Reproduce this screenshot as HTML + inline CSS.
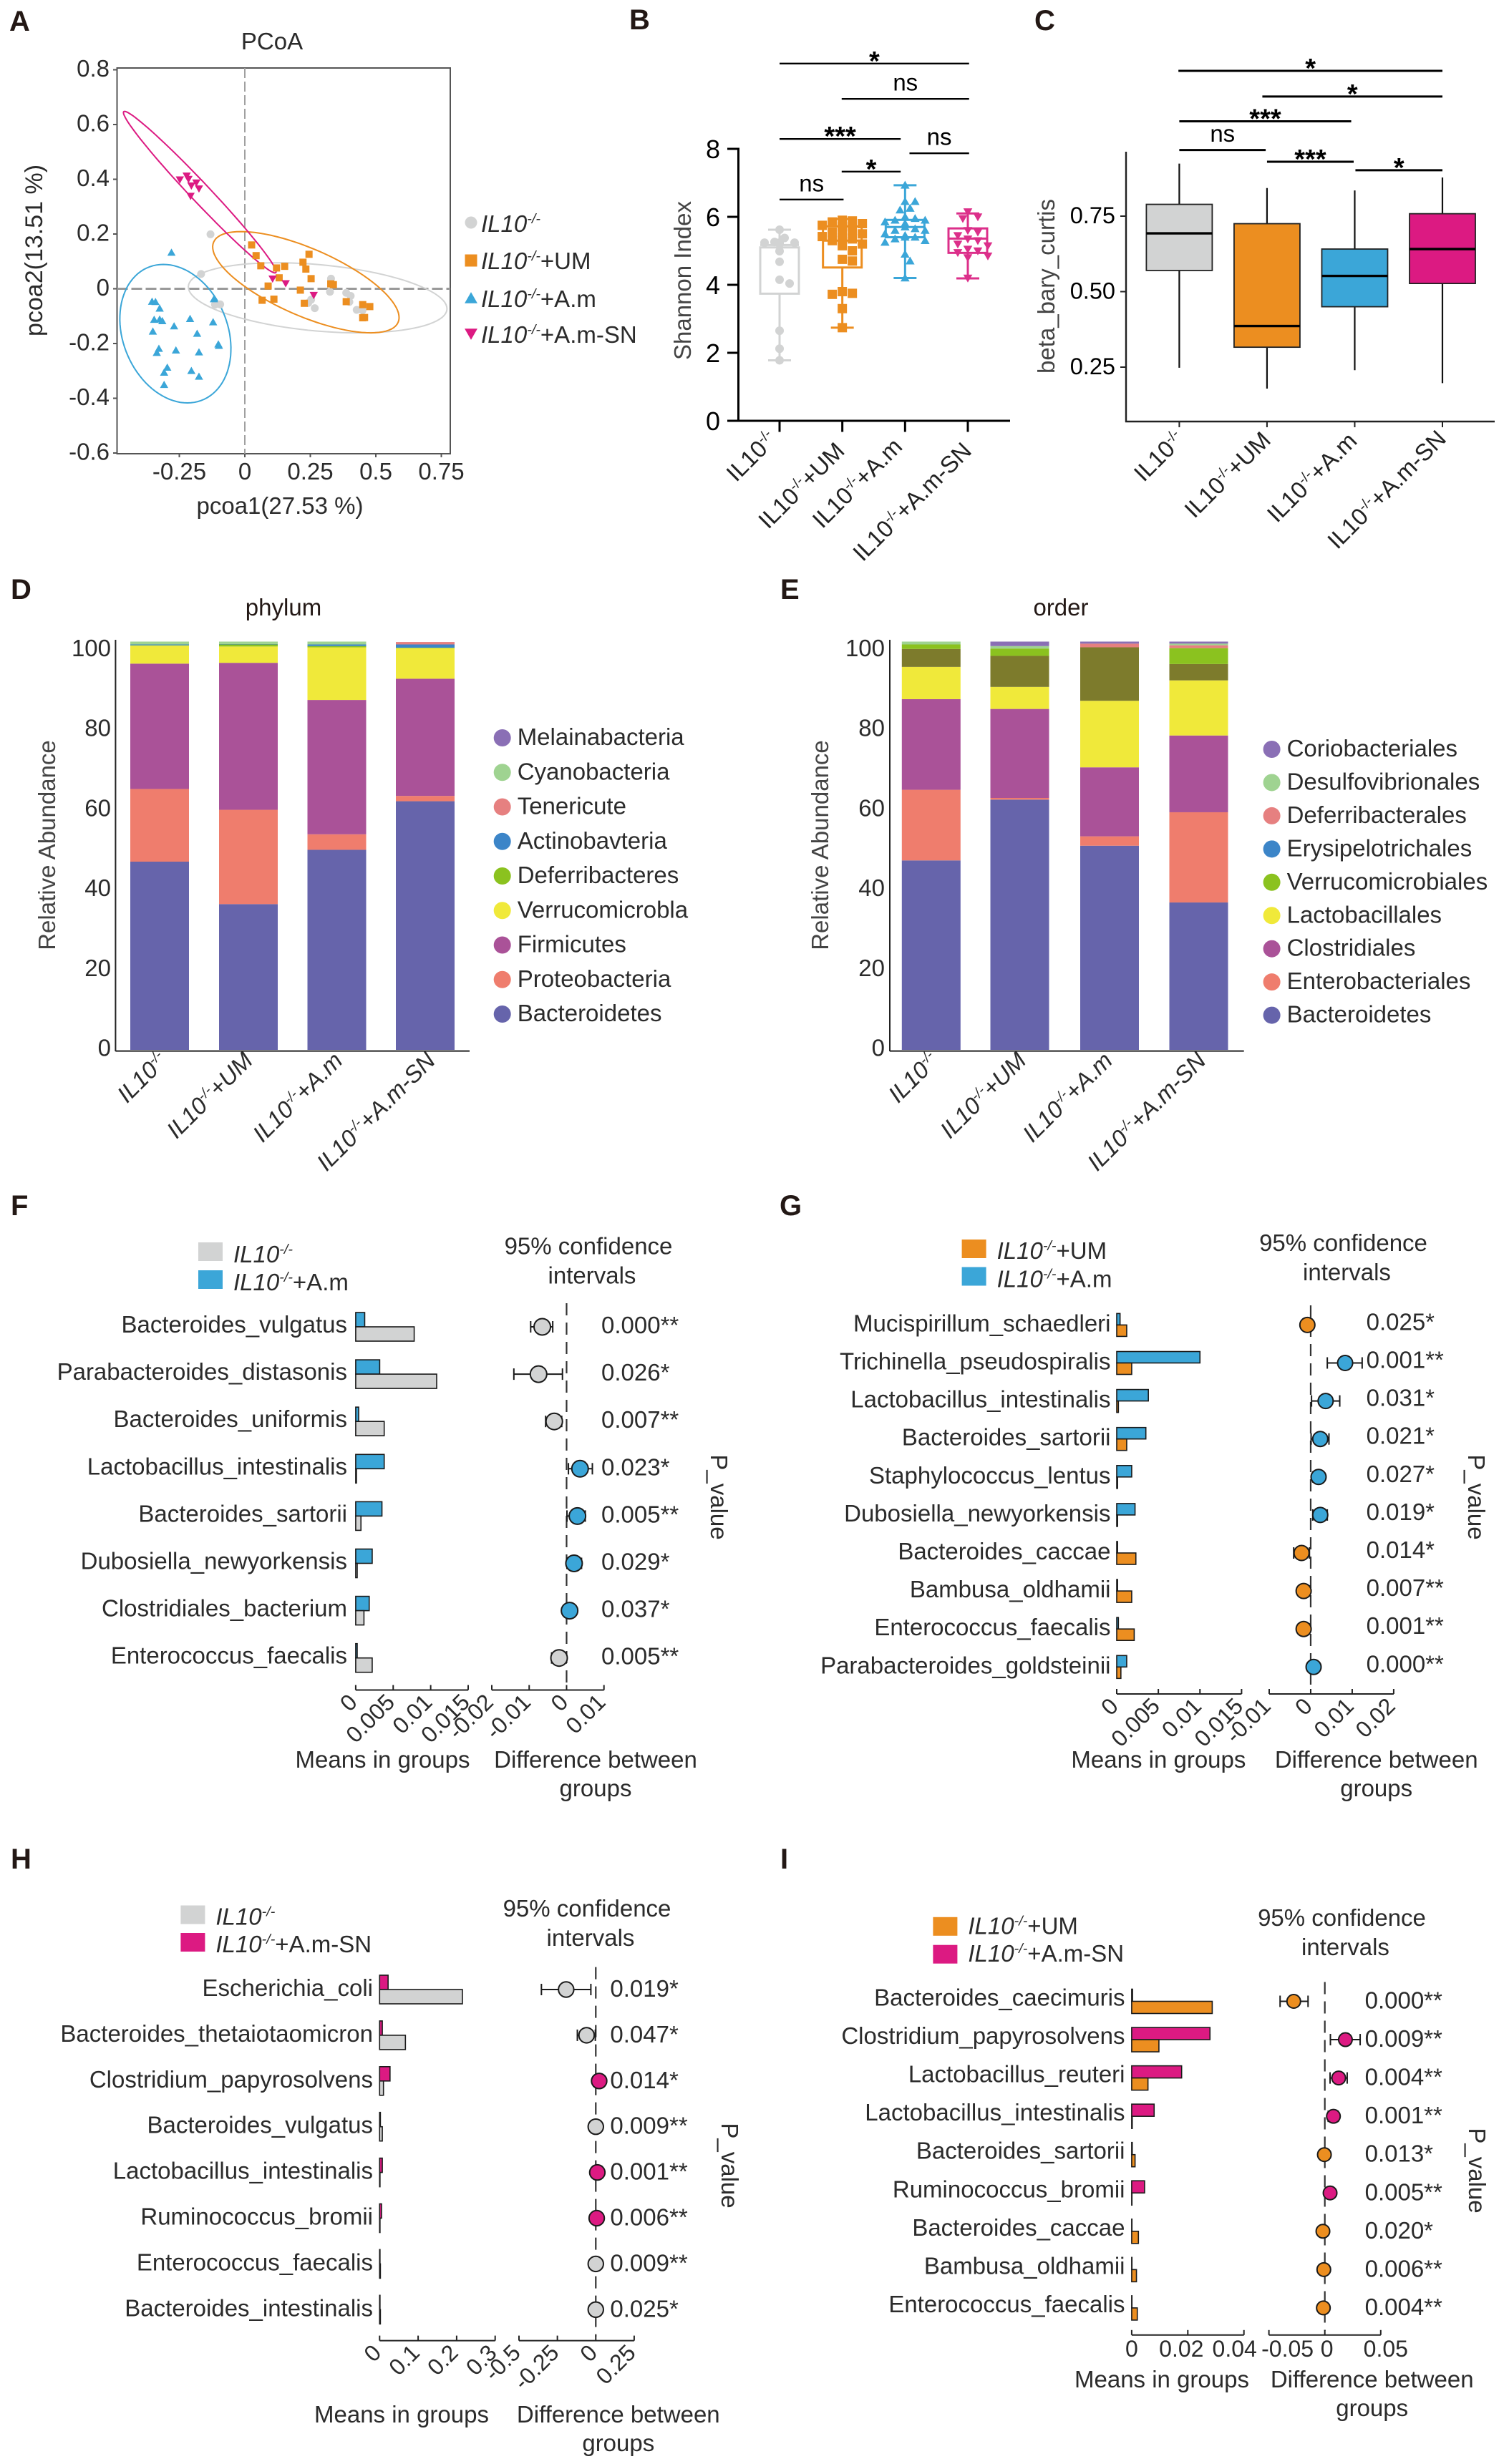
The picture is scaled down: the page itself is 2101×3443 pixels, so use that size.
<!DOCTYPE html>
<html lang="en">
<head>
<meta charset="utf-8">
<title>Microbiome figure panels A-I</title>
<style>
html,body{margin:0;padding:0;background:#fff}
svg{display:block}
text{font-family:"Liberation Sans",Arial,sans-serif}
</style>
</head>
<body>
<svg id="figure" xmlns="http://www.w3.org/2000/svg" width="2101" height="3443" viewBox="0 0 2101 3443">
<rect x="0" y="0" width="2101" height="3443" fill="#ffffff"/>
</svg>
<script>
/* ---------- shared categories ---------- */
const groupLabels = ['IL10-/-', 'IL10-/-+UM', 'IL10-/-+A.m', 'IL10-/-+A.m-SN'];

/* ---------- panel A: PCoA ---------- */
const pcoaXTicks = [-0.25, 0, 0.25, 0.5, 0.75];
const pcoaXTickLabels = ['-0.25', '0', '0.25', '0.5', '0.75'];
const pcoaYTicks = [0.8, 0.6, 0.4, 0.2, 0, -0.2, -0.4, -0.6];
const pcoaYTickLabels = ['0.8', '0.6', '0.4', '0.2', '0', '-0.2', '-0.4', '-0.6'];
const pcoaGrayX = [-.131,-.167,-.114,-.094,.329,.325,.387,.404,.399,.253,.242,.267,.427,.449];
const pcoaGrayY = [.199,.054,-.058,-.057,.037,-.011,-.015,-.026,-.048,-.040,-.052,-.071,-.077,-.079];
const pcoaOrangeX = [.026,.043,.061,.121,.152,.222,.245,.233,.253,.131,.089,.212,.066,.111,.227,.328,.338,.387,.450,.477,.450,.457];
const pcoaOrangeY = [.160,.121,.084,.076,.082,.097,.126,.072,.037,.040,.010,-.005,-.042,-.038,-.053,.018,.015,-.047,-.058,-.065,-.106,-.105];
const pcoaBlueX = [-.280,-.354,-.341,-.325,-.346,-.325,-.315,-.270,-.209,-.121,-.351,-.182,-.118,-.101,-.099,-.328,-.336,-.263,-.175,-.296,-.308,-.204,-.175,-.308];
const pcoaBlueY = [.132,-.047,-.048,-.072,-.113,-.112,-.118,-.137,-.110,-.122,-.156,-.164,-.038,-.203,-.208,-.219,-.234,-.225,-.232,-.288,-.306,-.300,-.321,-.351];
const pcoaPinkX = [-.248,-.222,-.215,-.185,-.204,-.175,-.207,.106,.156,.263];
const pcoaPinkY = [.399,.413,.401,.388,.377,.366,.339,.037,.020,-.023];
/* confidence ellipses: centre and two conjugate half-axes, in data units */
const ellipseGray = [.278,-.033,.154,-.128,.469,0];
const ellipseOrange = [.233,.024,.248,-.185,.255,0];
const ellipseBlue = [-.265,-.164,.046,-.253,.207,0];
const ellipsePink = [-.172,.353,.287,-.295,.050,0];

/* ---------- panel B: Shannon index ---------- */
const shannonTicks = [0, 2, 4, 6, 8];
const shannonGray = [5.62,5.21,5.24,5.38,5.24,5.24,5.24,5.26,5.21,4.99,4.68,4.15,4.04,2.65,2.12,1.78];
const shannonOrange = [5.9,5.88,5.85,5.8,5.75,5.72,5.7,5.65,5.6,5.55,5.5,5.42,5.4,5.38,5.35,5.3,5.28,5.2,5.15,5.0,4.75,4.7,3.8,3.75,3.72,3.3,2.74];
const shannonBlue = [6.93,6.45,6.45,6.25,6.2,6.0,5.95,5.9,5.9,5.85,5.8,5.8,5.7,5.65,5.6,5.6,5.5,5.45,5.4,5.4,5.35,5.3,5.25,4.9,4.7,4.2];
const shannonPink = [6.15,6.0,5.95,5.6,5.55,5.45,5.35,5.3,5.2,5.15,5.05,5.0,4.95,4.85,4.8,4.2];
const shannonWhiskerLow = [1.78,2.74,4.2,4.19];
const shannonQ1 = [3.74,4.51,5.4,4.94];
const shannonMedian = [5.17,5.3,5.7,5.36];
const shannonQ3 = [5.1,5.72,5.91,5.66];
const shannonWhiskerHigh = [5.62,5.94,6.93,6.1];
const shannonSigFrom = [0,.99,0,2.07,.99,0];
const shannonSigTo = [3.02,3.02,1.93,3.02,1.93,1.02];
const shannonSigLevel = [10.51,9.47,8.29,7.87,7.33,6.51];
const shannonSigMark = ['*','ns','***','ns','*','ns'];

/* ---------- panel C: beta diversity ---------- */
const betaTicks = [0.25, 0.50, 0.75];
const betaTickLabels = ['0.25', '0.50', '0.75'];
const betaWhiskerLow = [.248,.179,.240,.197];
const betaQ1 = [.570,.316,.450,.527];
const betaMedian = [.693,.386,.552,.641];
const betaQ3 = [.789,.725,.641,.758];
const betaWhiskerHigh = [.924,.843,.835,.878];
const betaSigFrom = [-.01,.947,0,0,1,2.008];
const betaSigTo = [3,3,1.96,.985,1.988,3];
const betaSigLevel = [1.231,1.146,1.064,.969,.930,.902];
const betaSigMark = ['*','*','***','ns','***','*'];

/* ---------- panel D: phylum ---------- */
const abundanceTicks = [100, 80, 60, 40, 20, 0];
const phylumBacteroidetes = [46.1,35.7,49.0,60.9];
const phylumProteobacteria = [17.8,23.1,3.8,1.3];
const phylumFirmicutes = [30.7,36.0,32.9,28.7];
const phylumVerrucomicrobla = [4.4,4.0,12.9,7.5];
const phylumDeferribacteres = [.1,.5,.3,.1];
const phylumActinobavteria = [.2,.1,.4,.8];
const phylumTenericute = [0,0,0,.6];
const phylumCyanobacteria = [.7,.6,.7,0];
const phylumMelainabacteria = [0,0,0,0];
const phylumStack = [phylumBacteroidetes, phylumProteobacteria, phylumFirmicutes, phylumVerrucomicrobla, phylumDeferribacteres, phylumActinobavteria, phylumTenericute, phylumCyanobacteria, phylumMelainabacteria];
const phylumNames = ['Bacteroidetes','Proteobacteria','Firmicutes','Verrucomicrobla','Deferribacteres','Actinobavteria','Tenericute','Cyanobacteria','Melainabacteria'];

/* ---------- panel E: order ---------- */
const orderBacteroidetes = [46.4,61.3,50.0,36.1];
const orderEnterobacteriales = [17.3,.4,2.3,22.1];
const orderClostridiales = [22.2,21.8,16.9,18.8];
const orderLactobacillales = [7.9,5.4,16.3,13.5];
const orderUnlabelled = [4.4,7.6,13.1,4.0];
const orderVerrucomicrobiales = [1.1,1.8,0,3.9];
const orderErysipelotrichales = [0,0,0,0];
const orderDeferribacterales = [0,0,.9,.7];
const orderDesulfovibrionales = [.7,.6,0,.4];
const orderCoriobacteriales = [0,1.1,.5,.5];
const orderStack = [orderBacteroidetes, orderEnterobacteriales, orderClostridiales, orderLactobacillales, orderUnlabelled, orderVerrucomicrobiales, orderErysipelotrichales, orderDeferribacterales, orderDesulfovibrionales, orderCoriobacteriales];
const orderNames = ['Bacteroidetes','Enterobacteriales','Clostridiales','Lactobacillales','Unlabelled','Verrucomicrobiales','Erysipelotrichales','Deferribacterales','Desulfovibrionales','Coriobacteriales'];
const orderLegendNames = ['Coriobacteriales','Desulfovibrionales','Deferribacterales','Erysipelotrichales','Verrucomicrobiales','Lactobacillales','Clostridiales','Enterobacteriales','Bacteroidetes'];

/* ---------- panel F ---------- */
const fTaxa = ['Bacteroides_vulgatus','Parabacteroides_distasonis','Bacteroides_uniformis','Lactobacillus_intestinalis','Bacteroides_sartorii','Dubosiella_newyorkensis','Clostridiales_bacterium','Enterococcus_faecalis'];
const fMeanTop = [.0012,.0032,.0004,.0038,.0035,.0022,.0018,.0002];
const fMeanBottom = [.0078,.0108,.0038,.0001,.0007,.0002,.0011,.0022];
const fDiff = [-.0065,-.0075,-.0033,.0036,.0029,.002,.0008,-.002];
const fCiLow = [-.0096,-.0141,-.0056,.0005,.0001,.0001,-.0006,-.004];
const fCiHigh = [-.0037,-.0011,-.0013,.0069,.005,.004,.0022,-.0001];
const fP = ['0.000**','0.026*','0.007**','0.023*','0.005**','0.029*','0.037*','0.005**'];
const fMeanTicks = [0,.005,.01,.015];
const fMeanTickLabels = ['0','0.005','0.01','0.015'];
const fDiffTicks = [-.02,-.01,0,.01];
const fDiffTickLabels = ['-0.02','-0.01','0','0.01'];

/* ---------- panel G ---------- */
const gTaxa = ['Mucispirillum_schaedleri','Trichinella_pseudospiralis','Lactobacillus_intestinalis','Bacteroides_sartorii','Staphylococcus_lentus','Dubosiella_newyorkensis','Bacteroides_caccae','Bambusa_oldhamii','Enterococcus_faecalis','Parabacteroides_goldsteinii'];
const gMeanTop = [.0004,.01,.0038,.0035,.0018,.0022,.0001,.0001,.0002,.0012];
const gMeanBottom = [.0012,.0018,.0002,.0012,.0001,.0001,.0023,.0018,.0021,.0005];
const gDiff = [-.0008,.0083,.0036,.0023,.0019,.0023,-.0022,-.0017,-.0017,.0007];
const gCiLow = [-.0012,.004,.0002,.0001,.0005,.0005,-.0041,-.003,-.003,-.0004];
const gCiHigh = [-.0002,.0124,.007,.0044,.003,.004,-.0003,-.0002,-.0003,.0018];
const gP = ['0.025*','0.001**','0.031*','0.021*','0.027*','0.019*','0.014*','0.007**','0.001**','0.000**'];
const gMeanTicks = [0,.005,.01,.015];
const gMeanTickLabels = ['0','0.005','0.01','0.015'];
const gDiffTicks = [-.01,0,.01,.02];
const gDiffTickLabels = ['-0.01','0','0.01','0.02'];

/* ---------- panel H ---------- */
const hTaxa = ['Escherichia_coli','Bacteroides_thetaiotaomicron','Clostridium_papyrosolvens','Bacteroides_vulgatus','Lactobacillus_intestinalis','Ruminococcus_bromii','Enterococcus_faecalis','Bacteroides_intestinalis'];
const hMeanTop = [.022,.007,.027,.002,.007,.005,.001,.001];
const hMeanBottom = [.215,.067,.01,.007,.001,.001,.002,.002];
const hDiff = [-.193,-.06,.022,0,.01,.006,0,0];
const hCiLow = [-.354,-.12,-.015,-.02,-.01,-.01,-.015,-.015];
const hCiHigh = [-.032,-.003,.055,.02,.03,.02,.015,.015];
const hP = ['0.019*','0.047*','0.014*','0.009**','0.001**','0.006**','0.009**','0.025*'];
const hMeanTicks = [0,.1,.2,.3];
const hMeanTickLabels = ['0','0.1','0.2','0.3'];
const hDiffTicks = [-.5,-.25,0,.25];
const hDiffTickLabels = ['-0.5','-0.25','0','0.25'];

/* ---------- panel I ---------- */
const iTaxa = ['Bacteroides_caecimuris','Clostridium_papyrosolvens','Lactobacillus_reuteri','Lactobacillus_intestinalis','Bacteroides_sartorii','Ruminococcus_bromii','Bacteroides_caccae','Bambusa_oldhamii','Enterococcus_faecalis'];
const iMeanTop = [.0003,.0279,.0178,.008,.0002,.0046,.0001,.0001,.0001];
const iMeanBottom = [.0287,.0097,.0058,.0002,.0012,.0001,.0024,.0017,.002];
const iDiff = [-.0278,.0184,.0124,.0077,-.0004,.0047,-.0017,-.0009,-.0013];
const iCiLow = [-.04,.005,.0047,.003,-.002,.002,-.003,-.002,-.002];
const iCiHigh = [-.015,.0316,.02,.012,.001,.007,-.001,0,-.001];
const iP = ['0.000**','0.009**','0.004**','0.001**','0.013*','0.005**','0.020*','0.006**','0.004**'];
const iMeanTicks = [0,.02,.04];
const iMeanTickLabels = ['0','0.02','0.04'];
const iDiffTicks = [-.05,0,.05];
const iDiffTickLabels = ['-0.05','0','0.05'];

/* ---------- drawing helpers ---------- */
const NS = 'http://www.w3.org/2000/svg';
const root = document.getElementById('figure');
const GRAY = '#d2d3d3', ORANGE = '#ec8e20', BLUE = '#3ba6d8', PINK = '#dc1a82';
const INK = '#2b2b2b';

function make(tag, parent, attrs, name) {
  const el = document.createElementNS(NS, tag);
  for (const k in attrs) el.setAttribute(k, attrs[k]);
  
  
  parent.appendChild(el);
  return el;
}
function linear(d0, d1, r0, r1) {
  return v => r0 + (v - d0) * (r1 - r0) / (d1 - d0);
}
function group(name) { return make('g', root, {}, name); }
function line(p, x1, y1, x2, y2, stroke, w, name, extra) {
  const a = Object.assign({x1: x1, y1: y1, x2: x2, y2: y2, stroke: stroke, 'stroke-width': w}, extra || {});
  return make('line', p, a, name);
}
function text(p, x, y, str, o, name) {
  o = o || {};
  const a = {x: x, y: y, 'font-size': o.size || 33, fill: o.fill || INK, 'text-anchor': o.anchor || 'start'};
  if (o.rot !== undefined) a.transform = 'rotate(' + o.rot + ' ' + x + ' ' + y + ')';
  if (o.bold) a['font-weight'] = 'bold';
  const el = make('text', p, a, name);
  el.textContent = str;
  return el;
}
/* draws "IL10-/-" with superscript and optional suffix */
function groupText(p, x, y, str, o, name) {
  o = o || {};
  const size = o.size || 33;
  const a = {x: x, y: y, 'font-size': size, fill: o.fill || INK, 'text-anchor': o.anchor || 'start'};
  if (o.rot !== undefined) a.transform = 'rotate(' + o.rot + ' ' + x + ' ' + y + ')';
  const el = make('text', p, a, name);
  const suffix = str.slice(7);
  const t1 = document.createElementNS(NS, 'tspan');
  t1.textContent = 'IL10';
  if (o.italicBase || o.italicAll) t1.setAttribute('font-style', 'italic');
  el.appendChild(t1);
  const t2 = document.createElementNS(NS, 'tspan');
  t2.textContent = '-/-';
  t2.setAttribute('font-size', size * 0.6);
  t2.setAttribute('dy', -size * 0.36);
  if (o.italicBase || o.italicAll) t2.setAttribute('font-style', 'italic');
  el.appendChild(t2);
  const t3 = document.createElementNS(NS, 'tspan');
  t3.textContent = suffix || '\u200b';
  t3.setAttribute('dy', size * 0.36);
  if (o.italicAll) t3.setAttribute('font-style', 'italic');
  el.appendChild(t3);
  return el;
}
function marker(p, kind, x, y, s, fill, name) {
  if (kind === 'circle') return make('circle', p, {cx: x, cy: y, r: s, fill: fill}, name);
  if (kind === 'square') return make('rect', p, {x: x - s, y: y - s, width: 2 * s, height: 2 * s, fill: fill}, name);
  const dir = kind === 'up' ? 1 : -1;
  const pts = [[x, y - dir * s * 1.05], [x - s * 1.05, y + dir * s * 0.8], [x + s * 1.05, y + dir * s * 0.8]];
  return make('polygon', p, {points: pts.map(q => q.join(',')).join(' '), fill: fill}, name);
}
function panelLetter(x, y, letter) {
  const g = text(root, x, y, letter, {size: 40, bold: true, fill: '#231815'}, 'panel-label-' + letter.toLowerCase());
  return g;
}
/* simple beeswarm: nudges sideways until the point clears earlier ones */
function swarm(values, yScale, step, minDist, maxOff) {
  const order = values.map((v, i) => i).sort((a, b) => values[b] - values[a]);
  const placed = [];
  const off = new Array(values.length).fill(0);
  order.forEach(i => {
    const y = yScale(values[i]);
    for (let k = 0; k < 60; k++) {
      const d = (k % 2 ? 1 : -1) * Math.ceil(k / 2) * step;
      if (Math.abs(d) > maxOff) break;
      if (placed.every(q => Math.hypot(q[0] - d, q[1] - y) >= minDist)) {
        off[i] = d;
        placed.push([d, y]);
        break;
      }
    }
  });
  return off;
}

/* ---------- panel A ---------- */
(function () {
  const g = group('pcoa-panel');
  const x = linear(0, 0.25, 342, 433.5);
  const y = linear(0, 0.2, 403.5, 327);
  panelLetter(13, 43, 'A');
  make('rect', g, {x: 163.5, y: 95, width: 465.5, height: 539, fill: 'none', stroke: '#555', 'stroke-width': 2}, 'pcoa-plot-frame');
  line(g, x(0), 95, x(0), 634, '#a0a0a0', 2, 'pcoa-zero-vertical', {'stroke-dasharray': '14 5'});
  line(g, 163.5, y(0), 629, y(0), '#999', 3, 'pcoa-zero-horizontal', {'stroke-dasharray': '15 5'});
  pcoaYTicks.forEach((t, i) => {
    line(g, 158, y(t), 163.5, y(t), '#555', 2, 'pcoa-y-tick');
    text(g, 153, y(t) + 9.5, pcoaYTickLabels[i], {anchor: 'end'}, 'pcoa-y-tick-label');
  });
  pcoaXTicks.forEach((t, i) => {
    line(g, x(t), 634, x(t), 639, '#555', 2, 'pcoa-x-tick');
    text(g, x(t), 670, pcoaXTickLabels[i], {anchor: 'middle'}, 'pcoa-x-tick-label');
  });
  text(g, 380, 69, 'PCoA', {anchor: 'middle'}, 'pcoa-title');
  text(g, 391, 718, 'pcoa1(27.53 %)', {anchor: 'middle'}, 'pcoa-x-axis-title');
  text(g, 59, 350, 'pcoa2(13.51 %)', {anchor: 'middle', rot: -90, size: 34}, 'pcoa-y-axis-title');
  function ellipse(e, color, name) {
    let d = '';
    for (let k = 0; k <= 96; k++) {
      const t = k / 96 * 2 * Math.PI;
      const px = x(e[0] + e[2] * Math.cos(t) + e[4] * Math.sin(t));
      const py = y(e[1] + e[3] * Math.cos(t) + e[5] * Math.sin(t));
      d += (k ? 'L' : 'M') + px.toFixed(1) + ' ' + py.toFixed(1);
    }
    make('path', g, {d: d + 'Z', fill: 'none', stroke: color, 'stroke-width': 2}, name);
  }
  ellipse(ellipseGray, GRAY, 'pcoa-ellipse-il10');
  ellipse(ellipseBlue, BLUE, 'pcoa-ellipse-am');
  ellipse(ellipseOrange, ORANGE, 'pcoa-ellipse-um');
  ellipse(ellipsePink, PINK, 'pcoa-ellipse-am-sn');
  pcoaGrayX.forEach((v, i) => marker(g, 'circle', x(v), y(pcoaGrayY[i]), 5.5, GRAY, 'pcoa-point-il10'));
  pcoaBlueX.forEach((v, i) => marker(g, 'up', x(v), y(pcoaBlueY[i]), 5.5, BLUE, 'pcoa-point-am'));
  pcoaOrangeX.forEach((v, i) => marker(g, 'square', x(v), y(pcoaOrangeY[i]), 5, ORANGE, 'pcoa-point-um'));
  pcoaPinkX.forEach((v, i) => marker(g, 'down', x(v), y(pcoaPinkY[i]), 5.5, PINK, 'pcoa-point-am-sn'));
  const kinds = ['circle', 'square', 'up', 'down'];
  const cols = [GRAY, ORANGE, BLUE, PINK];
  const ly = [311, 364, 417, 466];
  const tb = [324, 376, 429, 479];
  groupLabels.forEach((n, i) => {
    marker(g, kinds[i], 658, ly[i], 8.5, cols[i], 'pcoa-legend-marker');
    groupText(g, 672, tb[i], n, {italicBase: true}, 'pcoa-legend-label');
  });
})();

/* ---------- shared sig brackets ---------- */
function sigBrackets(g, xs, ys, from, to, level, mark, thick, name) {
  from.forEach((f, i) => {
    const x1 = xs(f), x2 = xs(to[i]), yy = ys(level[i]);
    line(g, x1, yy, x2, yy, '#000', thick, name + '-line');
    const c = (x1 + x2) / 2;
    if (mark[i] === 'ns') text(g, c, yy - 11.5, 'ns', {size: 33, fill: '#000', anchor: 'middle'}, name + '-ns');
    else text(g, c, yy + 9, mark[i], {size: 38, bold: true, fill: '#000', anchor: 'middle'}, name + '-star');
  });
}

/* ---------- panel B ---------- */
(function () {
  const g = group('shannon-panel');
  const x = linear(0, 3, 1089, 1352);
  const y = linear(0, 8, 588, 208);
  panelLetter(879, 41, 'B');
  line(g, 1031.5, 206.5, 1031.5, 589.5, '#000', 3, 'shannon-y-axis');
  line(g, 1016, 588, 1411, 588, '#000', 3, 'shannon-x-axis');
  shannonTicks.forEach(t => {
    line(g, 1016, y(t), 1031.5, y(t), '#000', 3, 'shannon-y-tick');
    text(g, 1006, y(t) + 13, String(t), {size: 36, fill: '#000', anchor: 'end'}, 'shannon-y-tick-label');
  });
  text(g, 965, 392, 'Shannon Index', {anchor: 'middle', rot: -90, fill: '#444'}, 'shannon-y-axis-title');
  const cols = [GRAY, ORANGE, BLUE, '#dc2f8a'];
  const kinds = ['circle', 'square', 'up', 'down'];
  const sizes = [6, 6.5, 6, 6];
  const sets = [shannonGray, shannonOrange, shannonBlue, shannonPink];
  const nudgeX = [-2, 5, -2, 7];
  const nudgeY = [616, 632, 626, 632];
  groupLabels.forEach((n, i) => {
    const c = x(i), col = cols[i];
    line(g, c, 588, c, 603.5, '#000', 3, 'shannon-x-tick');
    groupText(g, c + nudgeX[i], nudgeY[i], n, {anchor: 'end', rot: -45, fill: '#222'}, 'shannon-x-tick-label');
    line(g, c, y(shannonWhiskerLow[i]), c, y(shannonWhiskerHigh[i]), col, 3, 'shannon-whisker');
    line(g, c - 16, y(shannonWhiskerLow[i]), c + 16, y(shannonWhiskerLow[i]), col, 3, 'shannon-whisker-cap-low');
    line(g, c - 16, y(shannonWhiskerHigh[i]), c + 16, y(shannonWhiskerHigh[i]), col, 3, 'shannon-whisker-cap-high');
    make('rect', g, {x: c - 27, y: y(shannonQ3[i]), width: 54, height: y(shannonQ1[i]) - y(shannonQ3[i]), fill: '#fff', stroke: col, 'stroke-width': 3}, 'shannon-box');
    line(g, c - 27, y(shannonMedian[i]), c + 27, y(shannonMedian[i]), col, 3, 'shannon-median');
    const off = swarm(sets[i], y, 7, 11.5, 28);
    sets[i].forEach((v, j) => marker(g, kinds[i], c + off[j], y(v), sizes[i], col, 'shannon-point'));
  });
  sigBrackets(g, x, y, shannonSigFrom, shannonSigTo, shannonSigLevel, shannonSigMark, 2.4, 'shannon-significance');
})();

/* ---------- panel C ---------- */
(function () {
  const g = group('beta-panel');
  const x = linear(0, 3, 1647.4, 2015);
  const y = linear(0.25, 0.75, 513, 302);
  panelLetter(1445, 42, 'C');
  line(g, 1573, 212, 1573, 590, '#222', 2.4, 'beta-y-axis');
  line(g, 1572, 589, 2088, 589, '#222', 2.4, 'beta-x-axis');
  betaTicks.forEach((t, i) => {
    line(g, 1565, y(t), 1573, y(t), '#222', 2, 'beta-y-tick');
    text(g, 1558, y(t) + 10, betaTickLabels[i], {size: 32.5, fill: '#000', anchor: 'end'}, 'beta-y-tick-label');
  });
  text(g, 1473, 400, 'beta_bary_curtis', {anchor: 'middle', rot: -90, fill: '#444'}, 'beta-y-axis-title');
  const cols = [GRAY, ORANGE, BLUE, PINK];
  const nudgeX = [9, 7, 5, 7];
  const nudgeY = [616, 617, 618, 615];
  groupLabels.forEach((n, i) => {
    const c = x(i);
    line(g, c, 589, c, 597, '#222', 2, 'beta-x-tick');
    groupText(g, c + nudgeX[i], nudgeY[i], n, {anchor: 'end', rot: -45, fill: '#222'}, 'beta-x-tick-label');
    line(g, c, y(betaWhiskerLow[i]), c, y(betaWhiskerHigh[i]), '#111', 2.2, 'beta-whisker');
    make('rect', g, {x: c - 46, y: y(betaQ3[i]), width: 92, height: y(betaQ1[i]) - y(betaQ3[i]), fill: cols[i], stroke: '#222', 'stroke-width': 1.8}, 'beta-box');
    line(g, c - 46, y(betaMedian[i]), c + 46, y(betaMedian[i]), '#000', 3.4, 'beta-median');
  });
  sigBrackets(g, x, y, betaSigFrom, betaSigTo, betaSigLevel, betaSigMark, 3, 'beta-significance');
})();

/* ---------- panels D, E ---------- */
const stackPalette = {
  Bacteroidetes: '#6664ab', Proteobacteria: '#ef7d6d', Firmicutes: '#aa5298', Verrucomicrobla: '#f0e93a',
  Deferribacteres: '#8bc21f', Actinobavteria: '#3c85c8', Tenericute: '#e68080', Cyanobacteria: '#9fd391', Melainabacteria: '#8a6fb5',
  Enterobacteriales: '#ef7d6d', Clostridiales: '#aa5298', Lactobacillales: '#f0e93a', Unlabelled: '#7d7b2c',
  Verrucomicrobiales: '#8bc21f', Erysipelotrichales: '#3c85c8', Deferribacterales: '#e68080', Desulfovibrionales: '#9fd391', Coriobacteriales: '#8a6fb5'
};
function drawStack(c) {
  const g = group(c.name + '-panel');
  const y = linear(0, 100, 1467, 896.5);
  const labelY = linear(0, 100, 1463.7, 905);
  line(g, c.axisX, 894, c.axisX, 1469, '#222', 2, c.name + '-y-axis');
  line(g, c.axisX, 1468.6, c.axisEnd, 1468.6, '#222', 2, c.name + '-x-axis');
  abundanceTicks.forEach(t => {
    text(g, c.tickRight, labelY(t) + 12, String(t), {anchor: 'end'}, c.name + '-y-tick-label');
  });
  text(g, c.titleX, 860, c.name, {anchor: 'middle', fill: '#231815'}, c.name + '-title');
  text(g, c.yTitleX, 1181, 'Relative Abundance', {anchor: 'middle', rot: -90, fill: '#444'}, c.name + '-y-axis-title');
  groupLabels.forEach((n, i) => {
    let base = 0;
    c.stack.forEach((vals, s) => {
      const v = vals[i];
      if (v > 0) make('rect', g, {x: c.barX[i], y: y(base + v), width: 82, height: y(base) - y(base + v), fill: stackPalette[c.names[s]]}, 'bar-' + c.names[s].toLowerCase());
      base += v;
    });
    groupText(g, c.barX[i] + 41 + c.labelNudge[i], 1484, n, {anchor: 'end', rot: -45, italicAll: true}, c.name + '-x-tick-label');
  });
  c.legendNames.forEach((n, i) => {
    const yy = c.legendY + i * c.legendStep;
    make('circle', g, {cx: c.legendX, cy: yy, r: 12, fill: stackPalette[n]}, c.name + '-legend-marker');
    text(g, c.legendX + 21, yy + 10, n, {}, c.name + '-legend-label');
  });
}
panelLetter(15, 837, 'D');
drawStack({name: 'phylum', stack: phylumStack, names: phylumNames, legendNames: phylumNames.slice().reverse(),
  axisX: 161.4, axisEnd: 656, tickRight: 155, titleX: 396, yTitleX: 77, barX: [182, 306, 429.5, 553],
  labelNudge: [13, 8, 10, 16], legendX: 701.7, legendY: 1031, legendStep: 48.25});
panelLetter(1090, 837, 'E');
drawStack({name: 'order', stack: orderStack, names: orderNames, legendNames: orderLegendNames,
  axisX: 1243, axisEnd: 1737.7, tickRight: 1236, titleX: 1482, yTitleX: 1157, barX: [1259.8, 1383.5, 1509, 1633.5],
  labelNudge: [12.5, 11, 6, 12], legendX: 1776.6, legendY: 1047, legendStep: 46.45});

/* ---------- panels F-I ---------- */
function drawFeature(c) {
  const g = group('panel-' + c.key);
  const xm = linear(c.meanTicks[0], c.meanTicks[c.meanTicks.length - 1], c.meanPx[0], c.meanPx[1]);
  const xd = linear(c.diffTicks[0], c.diffTicks[c.diffTicks.length - 1], c.diffPx[0], c.diffPx[1]);
  panelLetter(c.letterX, c.letterY, c.key.toUpperCase());
  /* legend */
  make('rect', g, {x: c.legX, y: c.legY[0], width: 34, height: 26, fill: c.bottomColor}, 'legend-swatch-' + c.bottomName);
  groupText(g, c.legX + 49, c.legBase[0], c.bottomLabel, {italicBase: true}, 'legend-label-' + c.bottomName);
  make('rect', g, {x: c.legX, y: c.legY[1], width: 34, height: 26, fill: c.topColor}, 'legend-swatch-' + c.topName);
  groupText(g, c.legX + 49, c.legBase[1], c.topLabel, {italicBase: true}, 'legend-label-' + c.topName);
  /* headings */
  text(g, c.ciX, c.ciY, '95% confidence', {anchor: 'middle'}, 'ci-heading');
  text(g, c.ciX + 5, c.ciY + 41, 'intervals', {anchor: 'middle'}, 'ci-heading-second-line');
  text(g, c.pvalX, c.pvalY, 'P_value', {anchor: 'middle', rot: 90}, 'p-value-axis-title');
  /* dashed zero */
  line(g, xd(0), c.dashTop, xd(0), c.axisY - 6, '#333', 2.2, 'zero-difference-line', {'stroke-dasharray': '17 10'});
  c.taxa.forEach((t, i) => {
    const ry = c.row0 + i * c.rowStep;
    text(g, c.labelRight, ry + c.labelDy, t, {anchor: 'end'}, 'taxon-label');
    make('rect', g, {x: xm(0), y: ry - c.barH, width: xm(c.top[i]) - xm(0), height: c.barH, fill: c.topColor, stroke: '#1a1a1a', 'stroke-width': 1.6}, 'bar-top-' + c.topName);
    make('rect', g, {x: xm(0), y: ry, width: xm(c.bottom[i]) - xm(0), height: c.barH, fill: c.bottomColor, stroke: '#1a1a1a', 'stroke-width': 1.6}, 'bar-bottom-' + c.bottomName);
    const a = xd(c.low[i]), b = xd(c.high[i]);
    line(g, a, ry, b, ry, '#1a1a1a', 2, 'ci-line');
    line(g, a, ry - 8, a, ry + 8, '#1a1a1a', 2, 'ci-cap-low');
    line(g, b, ry - 8, b, ry + 8, '#1a1a1a', 2, 'ci-cap-high');
    make('circle', g, {cx: xd(c.diff[i]), cy: ry, r: c.r, fill: c.diff[i] > 0 ? c.topColor : c.bottomColor, stroke: '#1a1a1a', 'stroke-width': 2}, 'difference-point');
    text(g, c.pX, ry + c.pDy, c.p[i], {}, 'p-value-label');
  });
  /* axes */
  function axis(scale, ticks, labels, name, dxs) {
    line(g, scale(ticks[0]), c.axisY, scale(ticks[ticks.length - 1]), c.axisY, '#222', 2, name + '-axis');
    ticks.forEach((t, i) => {
      const px = scale(t);
      line(g, px, c.axisY, px, c.axisY - 7, '#222', 2, name + '-tick');
      if (c.flatTicks) text(g, px + dxs[i], c.axisY + 30, labels[i], {anchor: 'middle', size: 32}, name + '-tick-label');
      else text(g, px + 4, c.axisY + 19, labels[i], {anchor: 'end', rot: -45, size: 32}, name + '-tick-label');
    });
  }
  axis(xm, c.meanTicks, c.meanLabels, 'means', c.meanDx || []);
  axis(xd, c.diffTicks, c.diffLabels, 'difference', c.diffDx || []);
  text(g, c.meansX, c.footY, 'Means in groups', {anchor: 'middle'}, 'means-axis-title');
  text(g, c.diffX, c.footY, 'Difference between', {anchor: 'middle'}, 'difference-axis-title');
  text(g, c.diffX, c.footY + 40, 'groups', {anchor: 'middle'}, 'difference-axis-title-second-line');
}
drawFeature({key: 'f', taxa: fTaxa, top: fMeanTop, bottom: fMeanBottom, diff: fDiff, low: fCiLow, high: fCiHigh, p: fP,
  meanTicks: fMeanTicks, meanLabels: fMeanTickLabels, diffTicks: fDiffTicks, diffLabels: fDiffTickLabels,
  meanPx: [496.9, 654], diffPx: [687, 843.7], topColor: BLUE, bottomColor: GRAY, topName: 'am', bottomName: 'il10',
  topLabel: 'IL10-/-+A.m', bottomLabel: 'IL10-/-', letterX: 15, letterY: 1698,
  legX: 277, legY: [1736, 1775], legBase: [1764, 1803], ciX: 822, ciY: 1752.5, pvalX: 993, pvalY: 2092,
  dashTop: 1821, axisY: 2361.5, row0: 1854, rowStep: 66.1, barH: 20, labelRight: 485, labelDy: 8, pX: 840, pDy: 9, r: 11.5,
  meansX: 534.5, diffX: 832, footY: 2470});
drawFeature({key: 'g', taxa: gTaxa, top: gMeanTop, bottom: gMeanBottom, diff: gDiff, low: gCiLow, high: gCiHigh, p: gP,
  meanTicks: gMeanTicks, meanLabels: gMeanTickLabels, diffTicks: gDiffTicks, diffLabels: gDiffTickLabels,
  meanPx: [1560, 1734.4], diffPx: [1773, 1946.9], topColor: BLUE, bottomColor: ORANGE, topName: 'am', bottomName: 'um',
  topLabel: 'IL10-/-+A.m', bottomLabel: 'IL10-/-+UM', letterX: 1089, letterY: 1698,
  legX: 1343.6, legY: [1732, 1770.5], legBase: [1759, 1798.5], ciX: 1876.5, ciY: 1748, pvalX: 2051, pvalY: 2092,
  dashTop: 1824, axisY: 2367, row0: 1851.4, rowStep: 53.1, barH: 16, labelRight: 1551.5, labelDy: 9, pX: 1908.6, pDy: 7, r: 10.5,
  meansX: 1618.4, diffX: 1922.7, footY: 2470});
drawFeature({key: 'h', taxa: hTaxa, top: hMeanTop, bottom: hMeanBottom, diff: hDiff, low: hCiLow, high: hCiHigh, p: hP,
  meanTicks: hMeanTicks, meanLabels: hMeanTickLabels, diffTicks: hDiffTicks, diffLabels: hDiffTickLabels,
  meanPx: [530.3, 691.7], diffPx: [725, 885.9], topColor: PINK, bottomColor: GRAY, topName: 'am-sn', bottomName: 'il10',
  topLabel: 'IL10-/-+A.m-SN', bottomLabel: 'IL10-/-', letterX: 15, letterY: 2611,
  legX: 252.4, legY: [2662.5, 2701], legBase: [2689.5, 2728], ciX: 820, ciY: 2678, pvalX: 1008, pvalY: 3026,
  dashTop: 2748.6, axisY: 3270.6, row0: 2780, rowStep: 63.9, barH: 20, labelRight: 521, labelDy: 9, pX: 852.4, pDy: 10, r: 10.7,
  meansX: 561, diffX: 863.8, footY: 3385});
drawFeature({key: 'i', taxa: iTaxa, top: iMeanTop, bottom: iMeanBottom, diff: iDiff, low: iCiLow, high: iCiHigh, p: iP,
  meanTicks: iMeanTicks, meanLabels: iMeanTickLabels, diffTicks: iDiffTicks, diffLabels: iDiffTickLabels,
  meanPx: [1580.9, 1737.7], diffPx: [1772.6, 1928.8], topColor: PINK, bottomColor: ORANGE, topName: 'am-sn', bottomName: 'um',
  topLabel: 'IL10-/-+A.m-SN', bottomLabel: 'IL10-/-+UM', letterX: 1090, letterY: 2611,
  legX: 1303.4, legY: [2678.8, 2717.7], legBase: [2702.5, 2741], ciX: 1874.5, ciY: 2691, pvalX: 2052, pvalY: 3033,
  dashTop: 2769.5, axisY: 3262.8, row0: 2796.5, rowStep: 53.55, barH: 17, labelRight: 1571.5, labelDy: 6, pX: 1906.6, pDy: 10, r: 9.5,
  meansX: 1623, diffX: 1916.7, footY: 3336, flatTicks: true, meanDx: [0, -9, -13], diffDx: [26, 3, 7]});
</script>
</body>
</html>
